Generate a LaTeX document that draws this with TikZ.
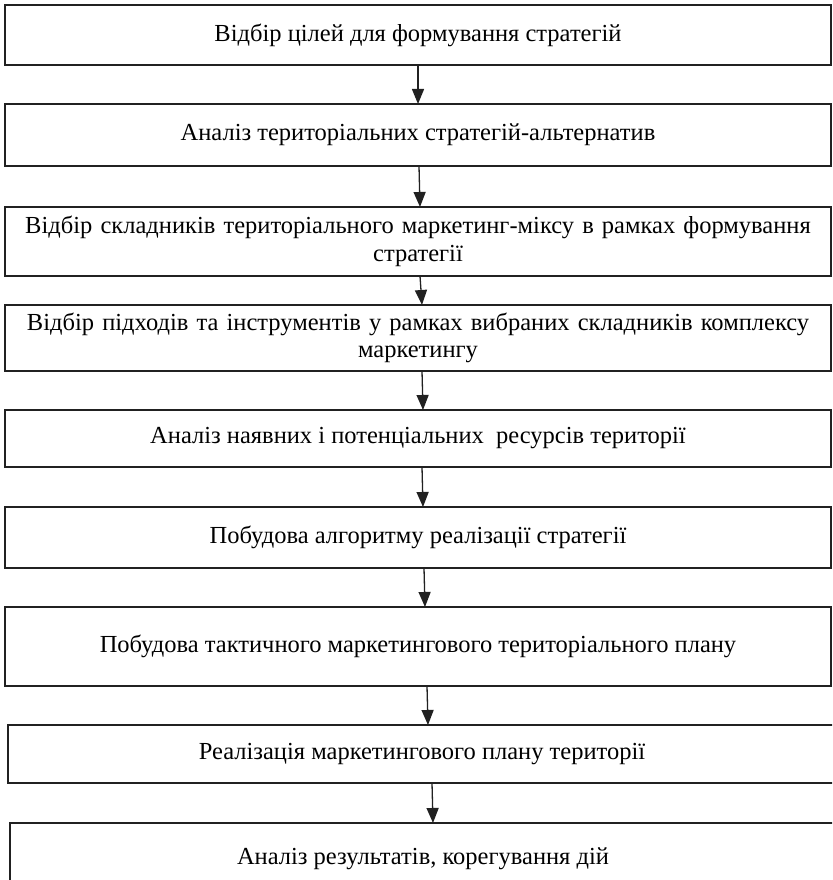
\documentclass[tikz,border=0pt]{standalone}
\usepackage{fontspec}
\setmainfont{Liberation Serif}
\usetikzlibrary{arrows.meta}
\definecolor{edge}{rgb}{0.13,0.13,0.13}
\begin{document}
\begin{tikzpicture}[x=1pt,y=1pt,
  box/.style={draw=edge, line width=1.4pt, rectangle, anchor=north west, outer sep=0pt, inner sep=0pt,
    font=\fontsize{24.5}{27.5}\selectfont, align=center},
  arr/.style={draw=edge, line width=1.3pt, -{Triangle[length=15pt,width=12pt]}}]
\useasboundingbox (0,0) rectangle (832,-880);
\clip (0,0) rectangle (832,-880);
\node[box, minimum width=826pt, minimum height=60pt] (b1) at (5,-5) {Відбір цілей для формування стратегій};
\node[box, minimum width=826pt, minimum height=62pt] (b2) at (5,-104) {Аналіз територіальних стратегій-альтернатив};
\node[box, minimum width=826pt, minimum height=69pt, text width=820pt] (b3) at (5,-207) {Відбір складників територіального маркетинг-міксу в рамках формування\\стратегії};
\node[box, minimum width=826pt, minimum height=66pt, text width=820pt] (b4) at (5,-305) {Відбір підходів та інструментів у рамках вибраних складників комплексу\\маркетингу};
\node[box, minimum width=826pt, minimum height=57pt] (b5) at (5,-410) {\raisebox{2pt}{Аналіз наявних і потенціальних\ \ ресурсів території}};
\node[box, minimum width=826pt, minimum height=61pt] (b6) at (5,-507) {Побудова алгоритму реалізації стратегії};
\node[box, minimum width=826pt, minimum height=79pt] (b7) at (5,-607) {\raisebox{3pt}{Побудова тактичного маркетингового територіального плану}};
\node[box, minimum width=828pt, minimum height=58pt] (b8) at (8,-725) {Реалізація маркетингового плану території};
\node[box, minimum width=826pt, minimum height=72pt] (b9) at (10,-823) {Аналіз результатів, корегування дій};
\draw[arr] ([xshift=413pt]b1.south west) -- ([xshift=413pt]b2.north west);
\draw[arr] ([xshift=414pt]b2.south west) -- ([xshift=415pt]b3.north west);
\draw[arr] ([xshift=415pt]b3.south west) -- ([xshift=417pt]b4.north west);
\draw[arr] ([xshift=417pt]b4.south west) -- ([xshift=418pt]b5.north west);
\draw[arr] ([xshift=417pt]b5.south west) -- ([xshift=418pt]b6.north west);
\draw[arr] ([xshift=419pt]b6.south west) -- ([xshift=420pt]b7.north west);
\draw[arr] ([xshift=422pt]b7.south west) -- ([xshift=420pt]b8.north west);
\draw[arr] ([xshift=424pt]b8.south west) -- ([xshift=423pt]b9.north west);
\end{tikzpicture}
\end{document}
